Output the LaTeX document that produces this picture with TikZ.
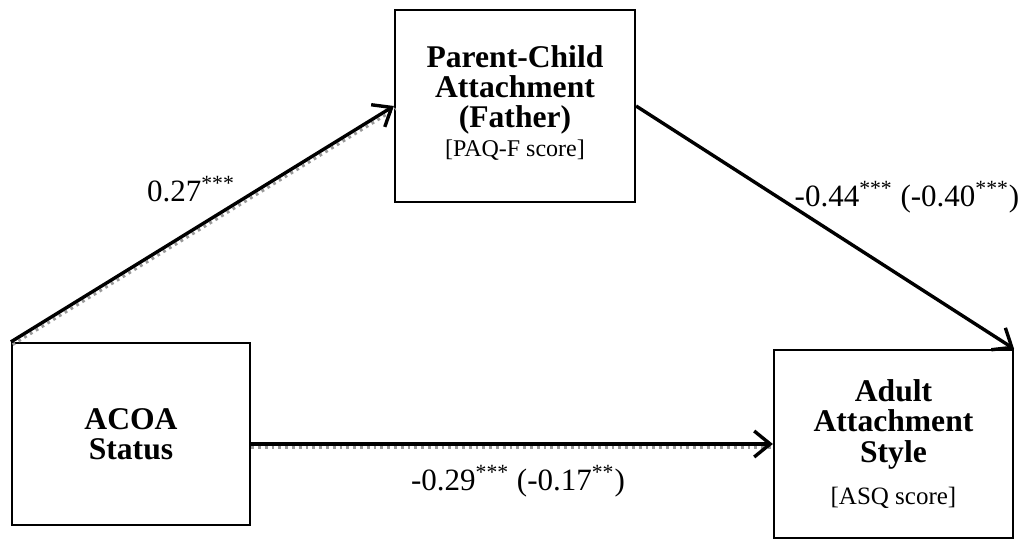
\documentclass[tikz,border=0pt]{standalone}
\usepackage{fontspec}
\setmainfont{Liberation Serif}
\usetikzlibrary{arrows.meta,positioning}

\begin{document}
\begin{tikzpicture}
		[
			x=0.5pt, y=-0.5pt,
			align=center,
			var/.style={draw, line width=1.1pt, inner sep=0pt, font=\fontsize{15.8}{15.2}\selectfont\bfseries},
			coef/.style={draw=none, fill=none, inner sep=0pt, font=\fontsize{15.5}{18}\selectfont},
			arrow/.style={-{Straight Barb[length=8pt,width=13pt,line width=1.7pt]}, line width=1.7pt},
			scan/.style={preaction={draw=black!40, line width=1.4pt, dotted, arrows=-, transform canvas={shift={#1}}}}
		]

		\useasboundingbox (0,0) rectangle (1025,540);

		% variables
		\node[var, minimum width=119pt, minimum height=91pt]	(acoa)  at ( 131.0, 434.0 ) {ACOA\\Status};
		\node[var, minimum width=120pt, minimum height=96pt]	(pcatt) at ( 515.0, 106.0 ) {Parent-Child\\Attachment\\(Father)\\[-1pt]{\fontsize{12}{13}\mdseries\selectfont [PAQ-F score]}\\[-10pt]};
		\node[var, minimum width=119.5pt, minimum height=94pt]	(adult) at ( 893.5, 444.0 ) {Adult\\Attachment\\Style\\[6pt]{\fontsize{12.5}{13}\mdseries\selectfont [ASQ score]}};

		% path coefficients
		\node[coef] (a)  at ( 191.0, 189.0 ) {0.27\textsuperscript{***}};
		\node[coef] (b)  at ( 907.0, 197.0 ) {-0.44\textsuperscript{***} (-0.40\textsuperscript{***})};
		\node[coef] (c)  at ( 518.0, 481.0 ) {-0.29\textsuperscript{***} (-0.17\textsuperscript{**})};

		% paths
		\draw[arrow, scan={(0.9pt,-1.4pt)}] (acoa.north west) -- (pcatt.west);
		\draw[arrow] (pcatt.east) -- (adult.north east);
		\draw[arrow, scan={(0pt,-1.7pt)}] (acoa.east |- adult.west) -- (adult.west);

	\end{tikzpicture}
\end{document}
